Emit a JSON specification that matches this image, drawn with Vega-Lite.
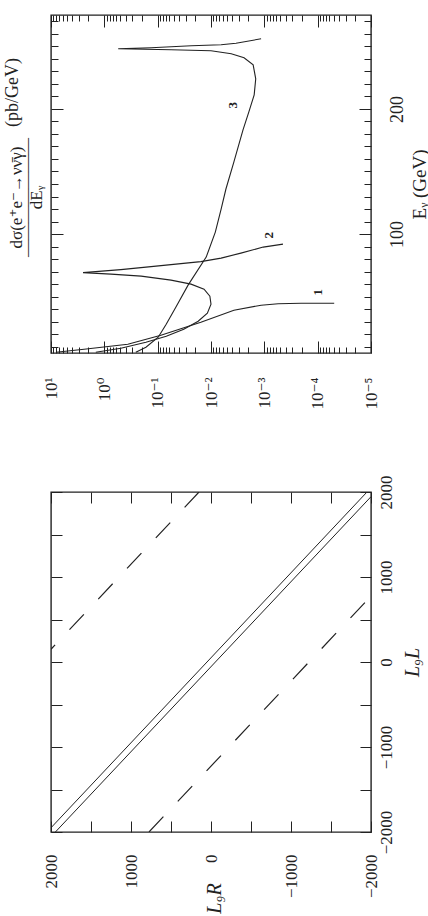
{
 "$schema": "https://vega.github.io/schema/vega-lite/v6.json",
 "background": "white",
 "padding": {"left": 2, "top": 13, "right": 12, "bottom": 0},
 "bounds": "flush",
 "spacing": 139,
 "config": {
   "view": {"stroke": "#222", "strokeWidth": 1.4},
   "axis": {"domain": false, "grid": false, "tickColor": "#222", "tickWidth": 1, "labelColor": "#222", "titleColor": "#222", "labelFont": "Liberation Serif, DejaVu Serif, serif", "titleFont": "Liberation Serif, DejaVu Serif, serif", "titleFontWeight": "normal", "labelOverlap": false, "labelFlush": false}
 },
 "datasets": {
   "curves": [
     {"curve":"3","i":0,"E":5.6,"sigma":0.257},
     {"curve":"3","i":1,"E":9.6,"sigma":0.166},
     {"curve":"3","i":2,"E":17.6,"sigma":0.0977},
     {"curve":"3","i":3,"E":28,"sigma":0.0692},
     {"curve":"3","i":4,"E":41.6,"sigma":0.0457},
     {"curve":"3","i":5,"E":59.2,"sigma":0.0269},
     {"curve":"3","i":6,"E":81.6,"sigma":0.0123},
     {"curve":"3","i":7,"E":101.6,"sigma":0.0083},
     {"curve":"3","i":8,"E":120,"sigma":0.00646},
     {"curve":"3","i":9,"E":136,"sigma":0.00525},
     {"curve":"3","i":10,"E":157.6,"sigma":0.00372},
     {"curve":"3","i":11,"E":183.2,"sigma":0.00251},
     {"curve":"3","i":12,"E":197.6,"sigma":0.00195},
     {"curve":"3","i":13,"E":211.2,"sigma":0.00155},
     {"curve":"3","i":14,"E":224,"sigma":0.00145},
     {"curve":"3","i":15,"E":235.2,"sigma":0.00162},
     {"curve":"3","i":16,"E":240.8,"sigma":0.0024},
     {"curve":"3","i":17,"E":244,"sigma":0.00417},
     {"curve":"3","i":18,"E":246.4,"sigma":0.01},
     {"curve":"3","i":19,"E":247.2,"sigma":0.0562},
     {"curve":"3","i":20,"E":248,"sigma":0.55},
     {"curve":"3","i":21,"E":248.8,"sigma":0.133},
     {"curve":"3","i":22,"E":250.4,"sigma":0.0234},
     {"curve":"3","i":23,"E":251.2,"sigma":0.00646},
     {"curve":"3","i":24,"E":252.4,"sigma":0.0034},
     {"curve":"3","i":25,"E":256,"sigma":0.00115},
     {"curve":"2","i":0,"E":5.6,"sigma":1.445},
     {"curve":"2","i":1,"E":8.8,"sigma":0.49},
     {"curve":"2","i":2,"E":13.6,"sigma":0.166},
     {"curve":"2","i":3,"E":18.4,"sigma":0.069},
     {"curve":"2","i":4,"E":24,"sigma":0.0324},
     {"curve":"2","i":5,"E":30.4,"sigma":0.0174},
     {"curve":"2","i":6,"E":36.8,"sigma":0.0117},
     {"curve":"2","i":7,"E":44,"sigma":0.01},
     {"curve":"2","i":8,"E":50.4,"sigma":0.0105},
     {"curve":"2","i":9,"E":56,"sigma":0.0135},
     {"curve":"2","i":10,"E":60,"sigma":0.0237},
     {"curve":"2","i":11,"E":63.2,"sigma":0.0562},
     {"curve":"2","i":12,"E":66.4,"sigma":0.204},
     {"curve":"2","i":13,"E":68,"sigma":0.75},
     {"curve":"2","i":14,"E":69.2,"sigma":2.51},
     {"curve":"2","i":15,"E":71.6,"sigma":0.49},
     {"curve":"2","i":16,"E":74,"sigma":0.133},
     {"curve":"2","i":17,"E":78,"sigma":0.0155},
     {"curve":"2","i":18,"E":80.8,"sigma":0.00646},
     {"curve":"2","i":19,"E":84.8,"sigma":0.00275},
     {"curve":"2","i":20,"E":89.6,"sigma":0.00105},
     {"curve":"2","i":21,"E":92,"sigma":0.000447},
     {"curve":"1","i":0,"E":5.6,"sigma":8.05},
     {"curve":"1","i":1,"E":8,"sigma":2.4},
     {"curve":"1","i":2,"E":12,"sigma":0.363},
     {"curve":"1","i":3,"E":19.2,"sigma":0.087},
     {"curve":"1","i":4,"E":29.6,"sigma":0.0155},
     {"curve":"1","i":5,"E":39.2,"sigma":0.00372},
     {"curve":"1","i":6,"E":43.2,"sigma":0.00115},
     {"curve":"1","i":7,"E":44.4,"sigma":0.00055},
     {"curve":"1","i":8,"E":44.8,"sigma":0.000204},
     {"curve":"1","i":9,"E":44.8,"sigma":0.000049}
   ],
   "curveLabels": [
     {"label":"3","E":203,"sigma":0.0039},
     {"label":"2","E":99,"sigma":0.00081},
     {"label":"1","E":53.6,"sigma":0.0001}
   ],
   "solid": [
     {"line":"s1","i":0,"L9L":-1950,"L9R":2000},
     {"line":"s1","i":1,"L9L":2000,"L9R":-1950},
     {"line":"s2","i":0,"L9L":-2000,"L9R":1945},
     {"line":"s2","i":1,"L9L":1945,"L9R":-2000}
   ],
   "dashed": [
     {"line":"d1","i":0,"L9L":2000,"L9R":150},
     {"line":"d1","i":1,"L9L":150,"L9R":2000},
     {"line":"d2","i":0,"L9L":-2000,"L9R":775},
     {"line":"d2","i":1,"L9L":775,"L9R":-2000}
   ]
 },
 "vconcat": [
   {
     "width": 320,
     "height": 338,
     "resolve": {"axis": {"x": "independent", "y": "independent"}},
     "layer": [
       {
         "data": {"name": "curves"},
         "mark": {"type": "line", "color": "#222", "strokeWidth": 1.1, "clip": true},
         "encoding": {
           "x": {"field": "sigma", "type": "quantitative",
             "scale": {"type": "log", "domain": [0.00001, 10], "reverse": true, "nice": false},
             "axis": {"orient": "bottom", "title": null,
               "values": [0.00001,0.00002,0.00003,0.00004,0.00005,0.00006,0.00007,0.00008,0.00009,0.0001,0.0002,0.0003,0.0004,0.0005,0.0006,0.0007,0.0008,0.0009,0.001,0.002,0.003,0.004,0.005,0.006,0.007,0.008,0.009,0.01,0.02,0.03,0.04,0.05,0.06,0.07,0.08,0.09,0.1,0.2,0.3,0.4,0.5,0.6,0.7,0.8,0.9,1,2,3,4,5,6,7,8,9,10],
               "labelExpr": "abs(log(datum.value)/LN10 - round(log(datum.value)/LN10)) < 0.001 ? ['10⁻⁵','10⁻⁴','10⁻³','10⁻²','10⁻¹','10⁰','10¹'][round(log(datum.value)/LN10)+5] : ''",
               "tickSize": -12,
               "tickDash": {"condition": {"test": "abs(log(datum.value)/LN10 - round(log(datum.value)/LN10)) < 0.001", "value": [12, 0]}, "value": [6, 30]},
               "labelAngle": 270, "labelAlign": "right", "labelBaseline": "middle", "labelPadding": 36, "labelFontSize": 17}
           },
           "y": {"field": "E", "type": "quantitative",
             "scale": {"domain": [5, 275], "nice": false, "zero": false},
             "axis": {"orient": "right", "title": "Eᵧ (GeV)",
               "values": [10,20,30,40,50,60,70,80,90,100,110,120,130,140,150,160,170,180,190,200,210,220,230,240,250,260,270],
               "labelExpr": "datum.value % 100 == 0 ? datum.label : ''",
               "tickSize": -12,
               "tickDash": {"condition": {"test": "datum.value % 100 == 0", "value": [12, 0]}, "value": [7, 30]},
               "labelAngle": 270, "labelAlign": "center", "labelBaseline": "top", "labelPadding": 29, "labelFontSize": 18,
               "titleAngle": 270, "titleAlign": "center", "titleBaseline": "top", "titleFontSize": 19, "titlePadding": 4}
           },
           "detail": {"field": "curve"},
           "order": {"field": "i", "type": "quantitative"}
         }
       },
       {
         "data": {"name": "curveLabels"},
         "mark": {"type": "text", "angle": 270, "font": "Liberation Serif", "fontSize": 13, "fontWeight": "bold", "color": "#222", "align": "center", "baseline": "middle"},
         "encoding": {
           "x": {"field": "sigma", "type": "quantitative",
             "axis": {"orient": "top", "title": "(pb/GeV)", "labels": false,
               "values": [0.00001,0.00002,0.00003,0.00004,0.00005,0.00006,0.00007,0.00008,0.00009,0.0001,0.0002,0.0003,0.0004,0.0005,0.0006,0.0007,0.0008,0.0009,0.001,0.002,0.003,0.004,0.005,0.006,0.007,0.008,0.009,0.01,0.02,0.03,0.04,0.05,0.06,0.07,0.08,0.09,0.1,0.2,0.3,0.4,0.5,0.6,0.7,0.8,0.9,1,2,3,4,5,6,7,8,9,10],
               "tickSize": -12,
               "tickDash": {"condition": {"test": "abs(log(datum.value)/LN10 - round(log(datum.value)/LN10)) < 0.001", "value": [12, 0]}, "value": [6, 30]},
               "titleAngle": 270, "titleX": -39, "titleY": 77, "titleAlign": "center", "titleBaseline": "middle", "titleFontSize": 18}
           },
           "y": {"field": "E", "type": "quantitative",
             "axis": {"orient": "left", "labels": false,
               "title": ["dσ(e⁺e⁻→νν̄γ)", "———————", "dEᵧ"],
               "values": [10,20,30,40,50,60,70,80,90,100,110,120,130,140,150,160,170,180,190,200,210,220,230,240,250,260,270],
               "tickSize": -12,
               "tickDash": {"condition": {"test": "datum.value % 100 == 0", "value": [12, 0]}, "value": [7, 30]},
               "titleAngle": 270, "titleAlign": "center", "titleBaseline": "middle", "titleFontSize": 17, "titleLineHeight": 10, "titleX": -35, "titleY": 182}
           },
           "text": {"field": "label"}
         }
       }
     ]
   },
   {
     "width": 320,
     "height": 340,
     "resolve": {"axis": {"x": "independent", "y": "independent"}},
     "layer": [
       {
         "data": {"name": "solid"},
         "mark": {"type": "line", "color": "#222", "strokeWidth": 1, "clip": true},
         "encoding": {
           "x": {"field": "L9R", "type": "quantitative",
             "scale": {"domain": [-2000, 2000], "reverse": true, "nice": false},
             "axis": {"orient": "bottom", "title": "L₉R", "format": "d",
               "values": [-2000,-1500,-1000,-500,0,500,1000,1500,2000],
               "labelExpr": "datum.value % 1000 == 0 ? datum.label : ''",
               "tickSize": -11,
               "labelAngle": 270, "labelAlign": "right", "labelBaseline": "middle", "labelPadding": 33, "labelFontSize": 17,
               "titleAngle": 270, "titleX": 163, "titleY": 66, "titleAlign": "center", "titleBaseline": "middle", "titleFontSize": 20, "titleFontStyle": "italic"}
           },
           "y": {"field": "L9L", "type": "quantitative",
             "scale": {"domain": [-2000, 2000], "nice": false},
             "axis": {"orient": "right", "title": "L₉L", "format": "d",
               "values": [-2000,-1500,-1000,-500,0,500,1000,1500,2000],
               "labelExpr": "datum.value % 1000 == 0 ? datum.label : ''",
               "tickSize": -11,
               "labelAngle": 270, "labelAlign": "center", "labelBaseline": "top", "labelPadding": 18, "labelFontSize": 17,
               "titleAngle": 270, "titleAlign": "center", "titleBaseline": "top", "titleFontSize": 20, "titleFontStyle": "italic", "titlePadding": 8}
           },
           "detail": {"field": "line"},
           "order": {"field": "i", "type": "quantitative"}
         }
       },
       {
         "data": {"name": "dashed"},
         "mark": {"type": "line", "color": "#222", "strokeWidth": 1.2, "strokeDash": [21, 21], "clip": true},
         "encoding": {
           "x": {"field": "L9R", "type": "quantitative",
             "axis": {"orient": "top", "title": null, "labels": false,
               "values": [-2000,-1500,-1000,-500,0,500,1000,1500,2000], "tickSize": -11}
           },
           "y": {"field": "L9L", "type": "quantitative",
             "axis": {"orient": "left", "title": null, "labels": false,
               "values": [-2000,-1500,-1000,-500,0,500,1000,1500,2000], "tickSize": -11}
           },
           "detail": {"field": "line"},
           "order": {"field": "i", "type": "quantitative"}
         }
       }
     ]
   }
 ]
}
